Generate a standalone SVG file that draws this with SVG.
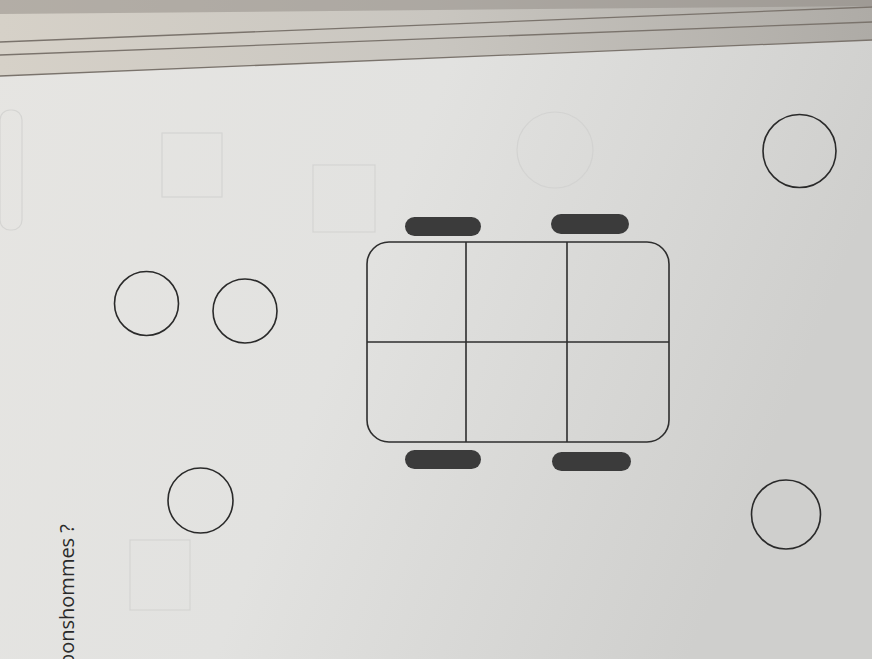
<svg xmlns="http://www.w3.org/2000/svg" width="872" height="659" viewBox="0 0 872 659">
<defs>
<linearGradient id="paper" x1="0" y1="0" x2="1" y2="0.3">
<stop offset="0" stop-color="#e6e5e2"/>
<stop offset="0.5" stop-color="#e2e2e0"/>
<stop offset="1" stop-color="#cfcfcd"/>
</linearGradient>
<linearGradient id="band" x1="0" y1="0" x2="1" y2="0">
<stop offset="0" stop-color="#d6d1c8"/>
<stop offset="0.5" stop-color="#c9c6c0"/>
<stop offset="1" stop-color="#aeaba6"/>
</linearGradient>
<style>
.ring{fill:none;stroke:#2a2a2a;stroke-width:1.6}
.pill{fill:#3b3b3b}
.grid{fill:none;stroke:#2e2e2e;stroke-width:1.6}
.edge{stroke:#7a736c;stroke-width:1.3;fill:none}
.ghost{fill:none;stroke:#cfcfcd;stroke-width:1.2}
.txt{font-family:"Open Sans","Liberation Sans",sans-serif;font-size:20px;fill:#2a2a2a}
</style>
</defs>
<rect width="872" height="659" fill="url(#paper)"/>
<polygon points="0,0 872,0 872,40 0,76" fill="url(#band)"/>
<polygon points="0,0 872,0 872,6 0,14" fill="#8f8a84" opacity="0.5"/>
<g id="page-edges">
<line class="edge" x1="0" y1="42" x2="872" y2="7"/>
<line class="edge" x1="0" y1="55" x2="872" y2="22"/>
<line class="edge" x1="0" y1="76" x2="872" y2="40"/>
</g>
<g id="ghosts" opacity="0.7">
<rect class="ghost" x="162" y="133" width="60" height="64"/>
<rect class="ghost" x="313" y="165" width="62" height="67"/>
<circle class="ghost" cx="555" cy="150" r="38"/>
<rect class="ghost" x="0" y="110" width="22" height="120" rx="10"/>
<rect class="ghost" x="130" y="540" width="60" height="70"/>
</g>
<g id="grid">
<rect class="grid" x="367" y="242" width="302" height="200" rx="22"/>
<line class="grid" x1="466" y1="242" x2="466" y2="442"/>
<line class="grid" x1="567" y1="242" x2="567" y2="442"/>
<line class="grid" x1="367" y1="342" x2="669" y2="342"/>
</g>
<g id="pill-top-left"><rect class="pill" x="405" y="217" width="76" height="19" rx="9.5"/></g>
<g id="pill-top-right"><rect class="pill" x="551" y="214" width="78" height="20" rx="10"/></g>
<g id="pill-bottom-left"><rect class="pill" x="405" y="450" width="76" height="19" rx="9.5"/></g>
<g id="pill-bottom-right"><rect class="pill" x="552" y="452" width="79" height="19" rx="9.5"/></g>
<g id="circle-1"><circle class="ring" cx="146.5" cy="303.5" r="32"/></g>
<g id="circle-2"><circle class="ring" cx="245" cy="311" r="32"/></g>
<g id="circle-3"><circle class="ring" cx="200.5" cy="500.5" r="32.5"/></g>
<g id="circle-4"><circle class="ring" cx="799.5" cy="151" r="36.5"/></g>
<g id="circle-5"><circle class="ring" cx="786" cy="514.5" r="34.5"/></g>
<text class="txt" transform="translate(74,666) rotate(-90)">bonshommes ?</text>
</svg>
